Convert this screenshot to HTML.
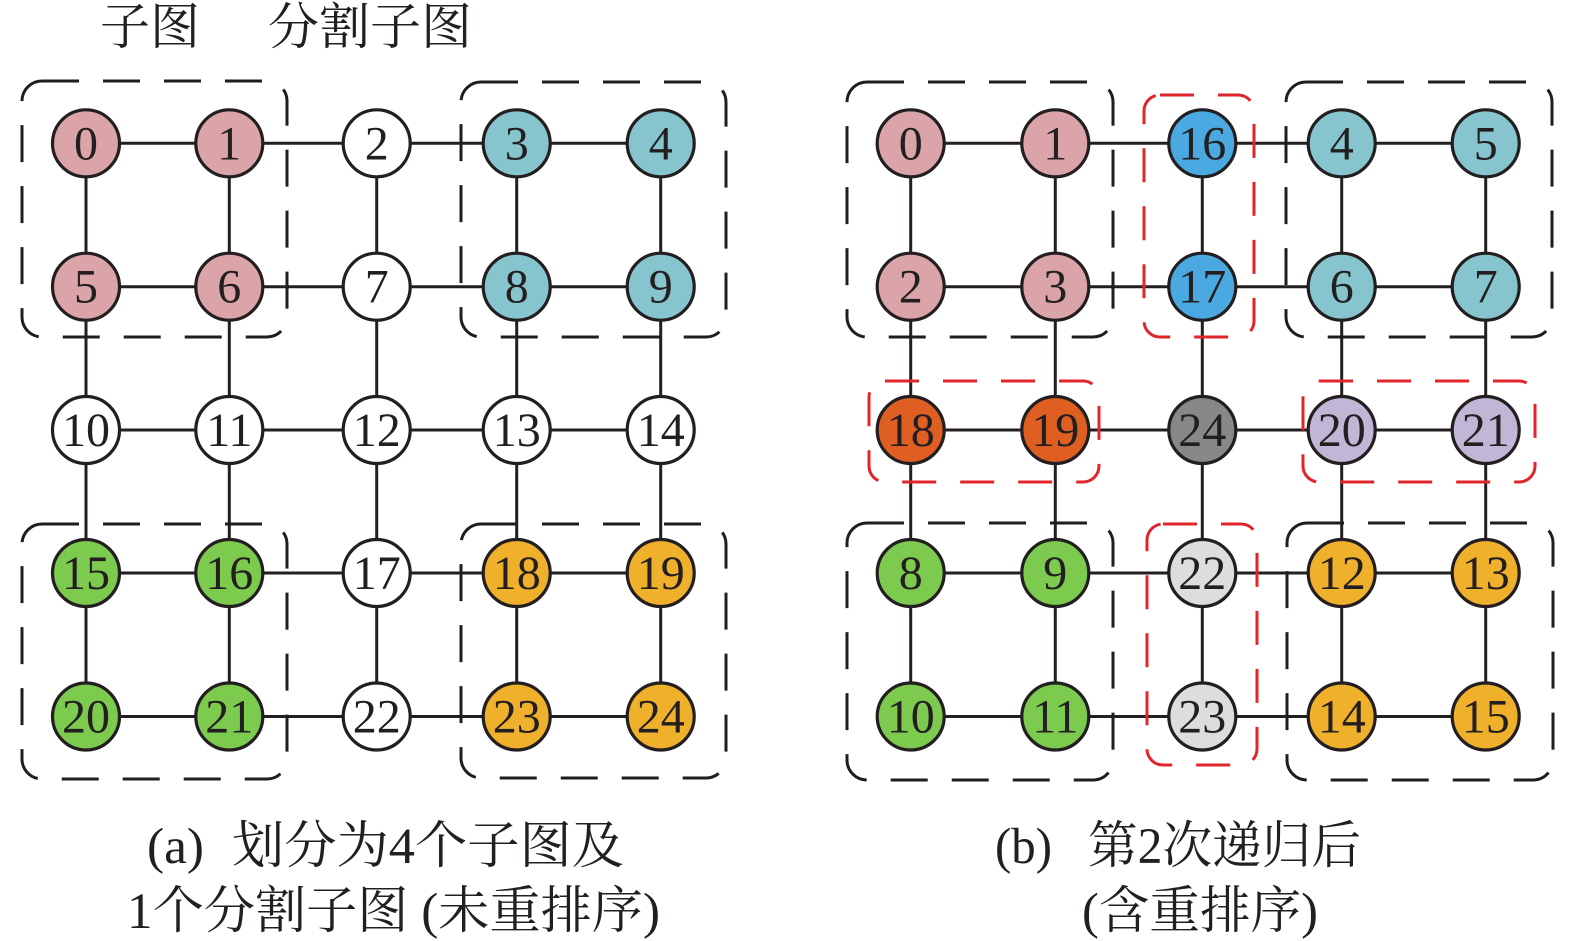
<!DOCTYPE html>
<html>
<head>
<meta charset="utf-8">
<style>
  html, body { margin:0; padding:0; background:#fff; }
  body { width:1575px; height:941px; overflow:hidden; }
  svg { display:block; position:absolute; left:0; top:0; }
  .cap { font-family:"Liberation Serif","Noto Serif CJK SC",serif; fill:#231F20; }
  .n { font-family:"Liberation Serif",serif; font-size:48px; fill:#231F20; text-anchor:middle; }
  .e { stroke:#231F20; stroke-width:3; }
  .c { stroke:#231F20; stroke-width:3.2; }
  .bk { fill:none; stroke:#1E1E1E; stroke-width:3; stroke-dasharray:37 24; }
  .rd { fill:none; stroke:#E0262B; stroke-width:3; stroke-dasharray:34 24; }
</style>
</head>
<body>
<svg width="1575" height="941" viewBox="0 0 1575 941" xmlns="http://www.w3.org/2000/svg">
  <!-- Titles -->
  <text class="cap" x="100" y="44" font-size="50" textLength="100" lengthAdjust="spacingAndGlyphs">子图</text>
  <text class="cap" x="268" y="44" font-size="50" textLength="204" lengthAdjust="spacingAndGlyphs">分割子图</text>

  <!-- ===== (a) edges ===== -->
  <g class="e">
    <line x1="86" y1="143.3" x2="660.7" y2="143.3"/>
    <line x1="86" y1="286.7" x2="660.7" y2="286.7"/>
    <line x1="86" y1="430" x2="660.7" y2="430"/>
    <line x1="86" y1="573" x2="660.7" y2="573"/>
    <line x1="86" y1="716.5" x2="660.7" y2="716.5"/>
    <line x1="86" y1="143.3" x2="86" y2="716.5"/>
    <line x1="229.3" y1="143.3" x2="229.3" y2="716.5"/>
    <line x1="376.7" y1="143.3" x2="376.7" y2="716.5"/>
    <line x1="516.7" y1="143.3" x2="516.7" y2="716.5"/>
    <line x1="660.7" y1="143.3" x2="660.7" y2="716.5"/>
  </g>
  <!-- (a) boxes -->
  <rect class="bk" x="22" y="81" width="265" height="256" rx="20"/>
  <rect class="bk" x="461" y="82" width="265" height="255" rx="20"/>
  <rect class="bk" x="22" y="524" width="265" height="255" rx="20"/>
  <rect class="bk" x="461" y="524" width="265" height="254" rx="20"/>

  <!-- ===== (b) edges ===== -->
  <g class="e">
    <line x1="910.7" y1="143.3" x2="1485.7" y2="143.3"/>
    <line x1="910.7" y1="286.7" x2="1485.7" y2="286.7"/>
    <line x1="910.7" y1="430" x2="1485.7" y2="430"/>
    <line x1="910.7" y1="573" x2="1485.7" y2="573"/>
    <line x1="910.7" y1="716.5" x2="1485.7" y2="716.5"/>
    <line x1="910.7" y1="143.3" x2="910.7" y2="716.5"/>
    <line x1="1055.3" y1="143.3" x2="1055.3" y2="716.5"/>
    <line x1="1202.3" y1="143.3" x2="1202.3" y2="716.5"/>
    <line x1="1341.7" y1="143.3" x2="1341.7" y2="716.5"/>
    <line x1="1485.7" y1="143.3" x2="1485.7" y2="716.5"/>
  </g>
  <!-- (b) boxes -->
  <rect class="bk" x="847" y="82" width="266" height="255" rx="20"/>
  <rect class="bk" x="1286" y="82" width="266" height="255" rx="20"/>
  <rect class="bk" x="847" y="523" width="266" height="257" rx="20"/>
  <rect class="bk" x="1287" y="523" width="266" height="257" rx="20"/>
  <rect class="rd" x="1144" y="95" width="110" height="242" rx="16"/>
  <rect class="rd" x="869" y="381" width="230" height="101" rx="16"/>
  <rect class="rd" x="1303" y="381" width="232" height="101" rx="16"/>
  <rect class="rd" x="1147" y="524" width="110" height="241" rx="16"/>

  <!-- ===== (a) nodes ===== -->
  <g class="c">
    <circle cx="86" cy="143.3" r="33.5" fill="#DBA4A9"/>
    <circle cx="229.3" cy="143.3" r="33.5" fill="#DBA4A9"/>
    <circle cx="376.7" cy="143.3" r="33.5" fill="#FFFFFF"/>
    <circle cx="516.7" cy="143.3" r="33.5" fill="#87C5CE"/>
    <circle cx="660.7" cy="143.3" r="33.5" fill="#87C5CE"/>

    <circle cx="86" cy="286.7" r="33.5" fill="#DBA4A9"/>
    <circle cx="229.3" cy="286.7" r="33.5" fill="#DBA4A9"/>
    <circle cx="376.7" cy="286.7" r="33.5" fill="#FFFFFF"/>
    <circle cx="516.7" cy="286.7" r="33.5" fill="#87C5CE"/>
    <circle cx="660.7" cy="286.7" r="33.5" fill="#87C5CE"/>

    <circle cx="86" cy="430" r="33.5" fill="#FFFFFF"/>
    <circle cx="229.3" cy="430" r="33.5" fill="#FFFFFF"/>
    <circle cx="376.7" cy="430" r="33.5" fill="#FFFFFF"/>
    <circle cx="516.7" cy="430" r="33.5" fill="#FFFFFF"/>
    <circle cx="660.7" cy="430" r="33.5" fill="#FFFFFF"/>

    <circle cx="86" cy="573" r="33.5" fill="#7CCB4F"/>
    <circle cx="229.3" cy="573" r="33.5" fill="#7CCB4F"/>
    <circle cx="376.7" cy="573" r="33.5" fill="#FFFFFF"/>
    <circle cx="516.7" cy="573" r="33.5" fill="#EFB02B"/>
    <circle cx="660.7" cy="573" r="33.5" fill="#EFB02B"/>

    <circle cx="86" cy="716.5" r="33.5" fill="#7CCB4F"/>
    <circle cx="229.3" cy="716.5" r="33.5" fill="#7CCB4F"/>
    <circle cx="376.7" cy="716.5" r="33.5" fill="#FFFFFF"/>
    <circle cx="516.7" cy="716.5" r="33.5" fill="#EFB02B"/>
    <circle cx="660.7" cy="716.5" r="33.5" fill="#EFB02B"/>
  </g>
  <g>
    <text class="n" x="86" y="159.3">0</text>
    <text class="n" x="229.3" y="159.3">1</text>
    <text class="n" x="376.7" y="159.3">2</text>
    <text class="n" x="516.7" y="159.3">3</text>
    <text class="n" x="660.7" y="159.3">4</text>

    <text class="n" x="86" y="302.7">5</text>
    <text class="n" x="229.3" y="302.7">6</text>
    <text class="n" x="376.7" y="302.7">7</text>
    <text class="n" x="516.7" y="302.7">8</text>
    <text class="n" x="660.7" y="302.7">9</text>

    <text class="n" x="86" y="446">10</text>
    <text class="n" x="229.3" y="446">11</text>
    <text class="n" x="376.7" y="446">12</text>
    <text class="n" x="516.7" y="446">13</text>
    <text class="n" x="660.7" y="446">14</text>

    <text class="n" x="86" y="589">15</text>
    <text class="n" x="229.3" y="589">16</text>
    <text class="n" x="376.7" y="589">17</text>
    <text class="n" x="516.7" y="589">18</text>
    <text class="n" x="660.7" y="589">19</text>

    <text class="n" x="86" y="732.5">20</text>
    <text class="n" x="229.3" y="732.5">21</text>
    <text class="n" x="376.7" y="732.5">22</text>
    <text class="n" x="516.7" y="732.5">23</text>
    <text class="n" x="660.7" y="732.5">24</text>
  </g>

  <!-- ===== (b) nodes ===== -->
  <g class="c">
    <circle cx="910.7" cy="143.3" r="33.5" fill="#DBA4A9"/>
    <circle cx="1055.3" cy="143.3" r="33.5" fill="#DBA4A9"/>
    <circle cx="1202.3" cy="143.3" r="33.5" fill="#4AA9E0"/>
    <circle cx="1341.7" cy="143.3" r="33.5" fill="#87C5CE"/>
    <circle cx="1485.7" cy="143.3" r="33.5" fill="#87C5CE"/>

    <circle cx="910.7" cy="286.7" r="33.5" fill="#DBA4A9"/>
    <circle cx="1055.3" cy="286.7" r="33.5" fill="#DBA4A9"/>
    <circle cx="1202.3" cy="286.7" r="33.5" fill="#4AA9E0"/>
    <circle cx="1341.7" cy="286.7" r="33.5" fill="#87C5CE"/>
    <circle cx="1485.7" cy="286.7" r="33.5" fill="#87C5CE"/>

    <circle cx="910.7" cy="430" r="33.5" fill="#DF5F22"/>
    <circle cx="1055.3" cy="430" r="33.5" fill="#DF5F22"/>
    <circle cx="1202.3" cy="430" r="33.5" fill="#888888"/>
    <circle cx="1341.7" cy="430" r="33.5" fill="#C2B6D6"/>
    <circle cx="1485.7" cy="430" r="33.5" fill="#C2B6D6"/>

    <circle cx="910.7" cy="573" r="33.5" fill="#7CCB4F"/>
    <circle cx="1055.3" cy="573" r="33.5" fill="#7CCB4F"/>
    <circle cx="1202.3" cy="573" r="33.5" fill="#DDDDDD"/>
    <circle cx="1341.7" cy="573" r="33.5" fill="#EFB02B"/>
    <circle cx="1485.7" cy="573" r="33.5" fill="#EFB02B"/>

    <circle cx="910.7" cy="716.5" r="33.5" fill="#7CCB4F"/>
    <circle cx="1055.3" cy="716.5" r="33.5" fill="#7CCB4F"/>
    <circle cx="1202.3" cy="716.5" r="33.5" fill="#DDDDDD"/>
    <circle cx="1341.7" cy="716.5" r="33.5" fill="#EFB02B"/>
    <circle cx="1485.7" cy="716.5" r="33.5" fill="#EFB02B"/>
  </g>
  <g>
    <text class="n" x="910.7" y="159.3">0</text>
    <text class="n" x="1055.3" y="159.3">1</text>
    <text class="n" x="1202.3" y="159.3">16</text>
    <text class="n" x="1341.7" y="159.3">4</text>
    <text class="n" x="1485.7" y="159.3">5</text>

    <text class="n" x="910.7" y="302.7">2</text>
    <text class="n" x="1055.3" y="302.7">3</text>
    <text class="n" x="1202.3" y="302.7">17</text>
    <text class="n" x="1341.7" y="302.7">6</text>
    <text class="n" x="1485.7" y="302.7">7</text>

    <text class="n" x="910.7" y="446">18</text>
    <text class="n" x="1055.3" y="446">19</text>
    <text class="n" x="1202.3" y="446">24</text>
    <text class="n" x="1341.7" y="446">20</text>
    <text class="n" x="1485.7" y="446">21</text>

    <text class="n" x="910.7" y="589">8</text>
    <text class="n" x="1055.3" y="589">9</text>
    <text class="n" x="1202.3" y="589">22</text>
    <text class="n" x="1341.7" y="589">12</text>
    <text class="n" x="1485.7" y="589">13</text>

    <text class="n" x="910.7" y="732.5">10</text>
    <text class="n" x="1055.3" y="732.5">11</text>
    <text class="n" x="1202.3" y="732.5">23</text>
    <text class="n" x="1341.7" y="732.5">14</text>
    <text class="n" x="1485.7" y="732.5">15</text>
  </g>

  <!-- Captions -->
  <text class="cap" x="147" y="863" font-size="51" textLength="57" lengthAdjust="spacingAndGlyphs">(a)</text>
  <text class="cap" x="232" y="863" font-size="51" textLength="392" lengthAdjust="spacingAndGlyphs">划分为4个子图及</text>
  <text class="cap" x="127" y="928" font-size="51" textLength="533" lengthAdjust="spacingAndGlyphs">1个分割子图 (未重排序)</text>

  <text class="cap" x="995" y="863" font-size="51" textLength="57" lengthAdjust="spacingAndGlyphs">(b)</text>
  <text class="cap" x="1088" y="863" font-size="51" textLength="273" lengthAdjust="spacingAndGlyphs">第2次递归后</text>
  <text class="cap" x="1082" y="928" font-size="51" textLength="236" lengthAdjust="spacingAndGlyphs">(含重排序)</text>
</svg>
</body>
</html>
